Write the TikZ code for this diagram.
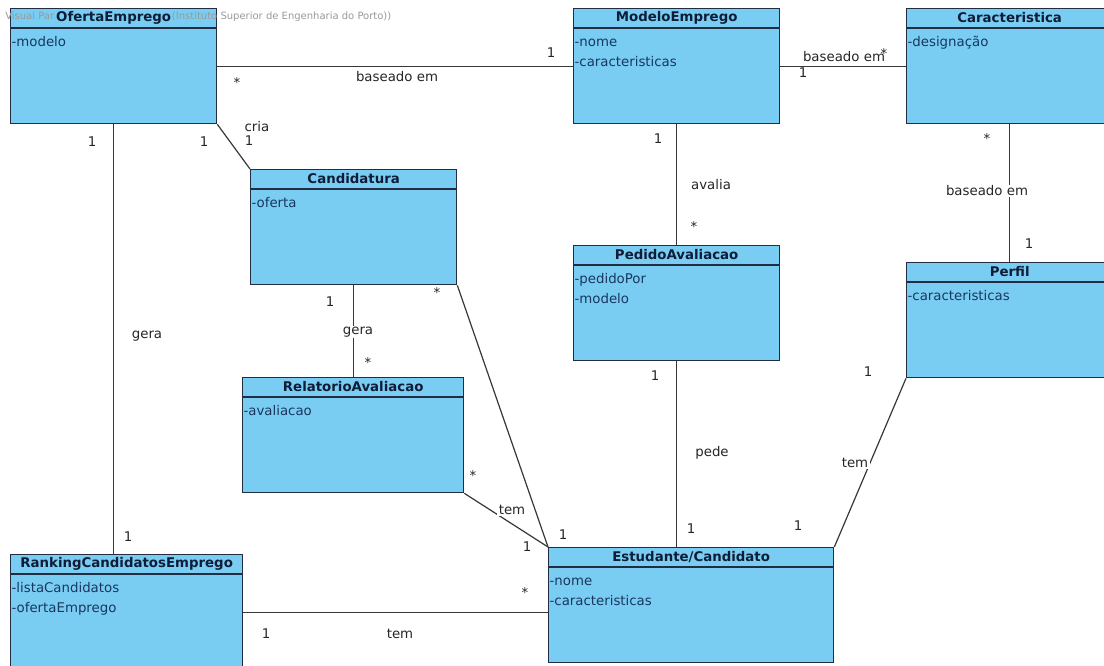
\documentclass[tikz,border=0pt]{standalone}
\usepackage{fontspec}
\setmainfont{DejaVu Sans}
\usetikzlibrary{positioning}
\definecolor{classfill}{RGB}{122,205,242}
\definecolor{classedge}{RGB}{35,45,65}
\definecolor{classtext}{RGB}{15,28,55}
\definecolor{attrtext}{RGB}{25,55,95}
\definecolor{assoc}{RGB}{55,55,55}

\begin{document}
\begin{tikzpicture}[x=0.75pt,y=-0.75pt]
\tikzstyle{classbox}=[rectangle, anchor=north west, draw=classedge, fill=classfill, line width=1pt, minimum height=86.25pt, inner sep=0pt]
\tikzstyle{classtitle}=[fill=classfill, inner sep=1pt, text=classtext, font=\bfseries\fontsize{10}{12}\selectfont]
\tikzstyle{attrs}=[anchor=north west, inner sep=0pt, align=left, text=attrtext, font=\fontsize{10}{15}\selectfont]
\tikzstyle{headline}=[draw=classedge, line width=1pt]
\tikzstyle{connect}=[draw=assoc, line width=0.9pt]
\tikzstyle{mult}=[inner sep=1pt, text=black!85, font=\fontsize{10}{12}\selectfont]
\tikzstyle{rolename}=[mult, fill=white]
\tikzstyle{watermark}=[anchor=west, inner sep=0pt, text=black!40, font=\fontsize{7.5}{9}\selectfont]

\useasboundingbox (0,0) rectangle (1104,666);

% classes
\node[classbox, minimum width=154.5pt] at (10,8) (oferta) {};
\node[watermark] at (5,17) (mark) {Visual Paradigm Standard Edition(Instituto Superior de Engenharia do Porto))};
\node[classtitle] at ([yshift=-7.5pt]oferta.north) (oferta-t) {OfertaEmprego};
\draw[headline] ([yshift=-15pt]oferta.north west) -- ([yshift=-15pt]oferta.north east);
\node[attrs] at ([xshift=1pt,yshift=-18pt]oferta.north west) (oferta-a) {\strut-modelo};

\node[classbox, minimum width=154.5pt] at (573,8) (modelo) {};
\node[classtitle] at ([yshift=-7.5pt]modelo.north) (modelo-t) {ModeloEmprego};
\draw[headline] ([yshift=-15pt]modelo.north west) -- ([yshift=-15pt]modelo.north east);
\node[attrs] at ([xshift=1pt,yshift=-18pt]modelo.north west) (modelo-a) {\strut-nome\\-caracteristicas};

\node[classbox, minimum width=154.5pt] at (906,8) (caract) {};
\node[classtitle] at ([yshift=-7.5pt]caract.north) (caract-t) {Caracteristica};
\draw[headline] ([yshift=-15pt]caract.north west) -- ([yshift=-15pt]caract.north east);
\node[attrs] at ([xshift=1pt,yshift=-18pt]caract.north west) (caract-a) {\strut-designação};

\node[classbox, minimum width=154.5pt] at (250,169) (cand) {};
\node[classtitle] at ([yshift=-7.5pt]cand.north) (cand-t) {Candidatura};
\draw[headline] ([yshift=-15pt]cand.north west) -- ([yshift=-15pt]cand.north east);
\node[attrs] at ([xshift=1pt,yshift=-18pt]cand.north west) (cand-a) {\strut-oferta};

\node[classbox, minimum width=154.5pt] at (573,245) (pedido) {};
\node[classtitle] at ([yshift=-7.5pt]pedido.north) (pedido-t) {PedidoAvaliacao};
\draw[headline] ([yshift=-15pt]pedido.north west) -- ([yshift=-15pt]pedido.north east);
\node[attrs] at ([xshift=1pt,yshift=-18pt]pedido.north west) (pedido-a) {\strut-pedidoPor\\-modelo};

\node[classbox, minimum width=154.5pt] at (906,262) (perfil) {};
\node[classtitle] at ([yshift=-7.5pt]perfil.north) (perfil-t) {Perfil};
\draw[headline] ([yshift=-15pt]perfil.north west) -- ([yshift=-15pt]perfil.north east);
\node[attrs] at ([xshift=1pt,yshift=-18pt]perfil.north west) (perfil-a) {\strut-caracteristicas};

\node[classbox, minimum width=165.75pt] at (242,377) (relat) {};
\node[classtitle] at ([yshift=-7.5pt]relat.north) (relat-t) {RelatorioAvaliacao};
\draw[headline] ([yshift=-15pt]relat.north west) -- ([yshift=-15pt]relat.north east);
\node[attrs] at ([xshift=1pt,yshift=-18pt]relat.north west) (relat-a) {\strut-avaliacao};

\node[classbox, minimum width=174pt] at (10,554) (ranking) {};
\node[classtitle] at ([yshift=-7.5pt]ranking.north) (ranking-t) {RankingCandidatosEmprego};
\draw[headline] ([yshift=-15pt]ranking.north west) -- ([yshift=-15pt]ranking.north east);
\node[attrs] at ([xshift=1pt,yshift=-18pt]ranking.north west) (ranking-a) {\strut-listaCandidatos\\-ofertaEmprego};

\node[classbox, minimum width=213.75pt] at (548,547) (estud) {};
\node[classtitle] at ([yshift=-7.5pt]estud.north) (estud-t) {Estudante/Candidato};
\draw[headline] ([yshift=-15pt]estud.north west) -- ([yshift=-15pt]estud.north east);
\node[attrs] at ([xshift=1pt,yshift=-18pt]estud.north west) (estud-a) {\strut-nome\\-caracteristicas};

% associations
\path (oferta) edge [connect] (modelo);
\path (modelo) edge [connect] (caract);
\path (oferta.south east) edge [connect] (cand.north west);
\path (oferta.south) edge [connect] (oferta.south |- ranking.north);
\path (modelo.south) edge [connect] (pedido.north);
\path (caract.south) edge [connect] (perfil.north);
\path (cand.south) edge [connect] (cand.south |- relat.north);
\path (cand.south east) edge [connect] (estud.north west);
\path (relat.south east) edge [connect] (estud.north west);
\path (pedido.south) edge [connect] (pedido.south |- estud.north);
\path (perfil.south west) edge [connect] (estud.north east);
\path (ranking.east) edge [connect] (ranking.east -| estud.west);

% names and multiplicities
\node[mult] at (237,83) (om1) {*};
\node[rolename] at (397,77) (om) {baseado em};
\node[mult] at (551,53) (om2) {1};
\node[rolename] at (844,57) (mc) {baseado em};
\node[mult] at (803,73) (mc1) {1};
\node[mult] at (884,54) (mc2) {*};
\node[rolename] at (257,127) (oc) {cria};
\node[mult] at (249,141) (oc2) {1};
\node[mult] at (204,142) (oc1) {1};
\node[mult] at (92,142) (or1) {1};
\node[rolename] at (147,336) (or) {gera};
\node[mult] at (128,537) (or2) {1};
\node[mult] at (658,139) (mp1) {1};
\node[rolename] at (711,185) (mp) {avalia};
\node[mult] at (694,227) (mp2) {*};
\node[mult] at (987,139) (cp1) {*};
\node[rolename] at (987,191) (cp) {baseado em};
\node[mult] at (1029,244) (cp2) {1};
\node[mult] at (330,302) (cr1) {1};
\node[rolename] at (358,332) (cr) {gera};
\node[mult] at (368,363) (cr2) {*};
\node[mult] at (437,293) (ce1) {*};
\node[mult] at (563,535) (ce2) {1};
\node[mult] at (473,476) (re1) {*};
\node[rolename] at (512,510) (re) {tem};
\node[mult] at (527,547) (re2) {1};
\node[mult] at (655,376) (pe1) {1};
\node[rolename] at (712,453) (pe) {pede};
\node[mult] at (691,529) (pe2) {1};
\node[mult] at (868,372) (fe1) {1};
\node[rolename] at (855,463) (fe) {tem};
\node[mult] at (798,526) (fe2) {1};
\node[mult] at (266,634) (ke1) {1};
\node[rolename] at (400,634) (ke) {tem};
\node[mult] at (525,593) (ke2) {*};
\end{tikzpicture}
\end{document}
